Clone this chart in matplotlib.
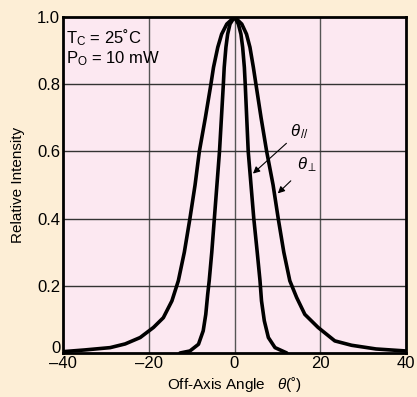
import matplotlib
matplotlib.use('Agg')
from matplotlib import pyplot as plt
from matplotlib import transforms

plt.rcParams['font.family'] = ['Liberation Sans', 'DejaVu Sans']
plt.rcParams['mathtext.fontset'] = 'custom'
plt.rcParams['mathtext.rm'] = 'Liberation Sans'
plt.rcParams['mathtext.it'] = 'Liberation Sans:italic'
plt.rcParams['mathtext.sf'] = 'Liberation Sans'

# ------------------------------ data ------------------------------
# theta perpendicular (wide curve)
perp_angle = [-40, -35, -29, -25.5, -22, -18.9, -16.6, -14.6, -13.1, -11.7, -10.4,
              -9.2, -8.2, -6.8, -5.5, -4.9, -3.9, -3.0, -1.8, 0,
              1.7, 2.8, 3.6, 4.4, 5.0, 6.2, 7.5, 9.0, 10.2, 11.5, 12.9, 14.5,
              16.4, 19.5, 23.4, 27.3, 33, 40]
perp_int = [0.004, 0.009, 0.016, 0.027, 0.046, 0.076, 0.105, 0.155, 0.215, 0.3, 0.4,
            0.5, 0.6, 0.7, 0.8, 0.85, 0.91, 0.949, 0.979, 1.0,
            0.979, 0.949, 0.91, 0.85, 0.8, 0.7, 0.6, 0.5, 0.4, 0.3, 0.215, 0.165,
            0.115, 0.076, 0.036, 0.023, 0.012, 0.006]

# theta parallel (narrow curve)
par_angle = [-12.7, -10.4, -8.4, -7.3, -6.7, -6.25, -5.9, -5.3, -4.7, -4.1, -3.5,
             -2.6, -2.4, -2.0, -1.6, -1.05, 0,
             0.9, 1.5, 1.9, 2.3, 2.5, 3.2, 3.85, 4.5, 5.3, 5.95, 6.3, 6.95, 7.9,
             9.45, 12.2]
par_int = [0.0, 0.006, 0.026, 0.066, 0.115, 0.175, 0.215, 0.3, 0.4, 0.5, 0.6,
           0.8, 0.85, 0.91, 0.949, 0.979, 1.0,
           0.979, 0.949, 0.91, 0.85, 0.8, 0.6, 0.5, 0.4, 0.3, 0.215, 0.155, 0.096, 0.046,
           0.016, 0.0]

xticks = [-40, -20, 0, 20, 40]
xtick_labels = ['\u201340', '\u201320', '0', '20', '40']
yticks = [0, 0.2, 0.4, 0.6, 0.8, 1.0]
ytick_labels = ['0', '0.2', '0.4', '0.6', '0.8', '1.0']

# ------------------------------ figure ------------------------------
fig = plt.figure(figsize=(4.17, 3.97), dpi=100, facecolor='#fdeed6')
ax = fig.add_axes([63 / 417, 44 / 397, 343 / 417, 336 / 397])
ax.set_facecolor('#fce8f1')

for gx in [-20, 0, 20]:
    ax.axvline(gx, color='#555555', lw=1.0, zorder=1)
for gy in [0.2, 0.4, 0.6, 0.8]:
    ax.axhline(gy, color='#333333', lw=1.0, zorder=1)

ax.plot(perp_angle, perp_int, color='black', lw=2.6, solid_capstyle='round',
        solid_joinstyle='round', zorder=3)
ax.plot(par_angle, par_int, color='black', lw=2.6, solid_capstyle='round',
        solid_joinstyle='round', zorder=3)

ax.set_xlim(-40, 40)
ax.set_ylim(0, 1.0)
ax.set_xticks(xticks)
ax.set_xticklabels(xtick_labels)
ax.set_yticks(yticks)
ax.set_yticklabels(ytick_labels)
ax.tick_params(length=0, labelsize=12, pad=2)
ax.tick_params(axis='y', pad=2)

# lift the "0" on the y axis a little so it sits above the -40
lbl0 = ax.get_yticklabels()[0]
lbl0.set_transform(lbl0.get_transform() +
                   transforms.ScaledTranslation(0, 4 / 72, fig.dpi_scale_trans))

for s in ax.spines.values():
    s.set_linewidth(2)
    s.set_color('black')
    s.set_zorder(4)

ax.set_ylabel('Relative Intensity', fontsize=11, labelpad=9)
ax.set_xlabel(r'Off-Axis Angle   $\mathit{\theta}$(˚)', fontsize=11, labelpad=3)

# conditions in the corner
ax.text(-39.2, 0.94, r'T$_{\mathrm{C}}$ = 25˚C', fontsize=12, va='center')
ax.text(-39.2, 0.875, r'P$_{\mathrm{O}}$ = 10 mW', fontsize=12, va='center')

# curve labels with arrows
ax.annotate(r'$\mathit{\theta}_{\,//}$', xy=(4.3, 0.534), xytext=(13.0, 0.66),
            fontsize=12, ha='left', va='center',
            arrowprops=dict(arrowstyle='-|>', color='black', lw=0.8,
                            mutation_scale=10, shrinkA=1, shrinkB=0))
ax.annotate(r'$\mathit{\theta}_{\perp}$', xy=(10.1, 0.475), xytext=(14.6, 0.56),
            fontsize=12, ha='left', va='center',
            arrowprops=dict(arrowstyle='-|>', color='black', lw=0.8,
                            mutation_scale=10, shrinkA=4, shrinkB=0))

plt.savefig('out.png', dpi=100, facecolor=fig.get_facecolor())
